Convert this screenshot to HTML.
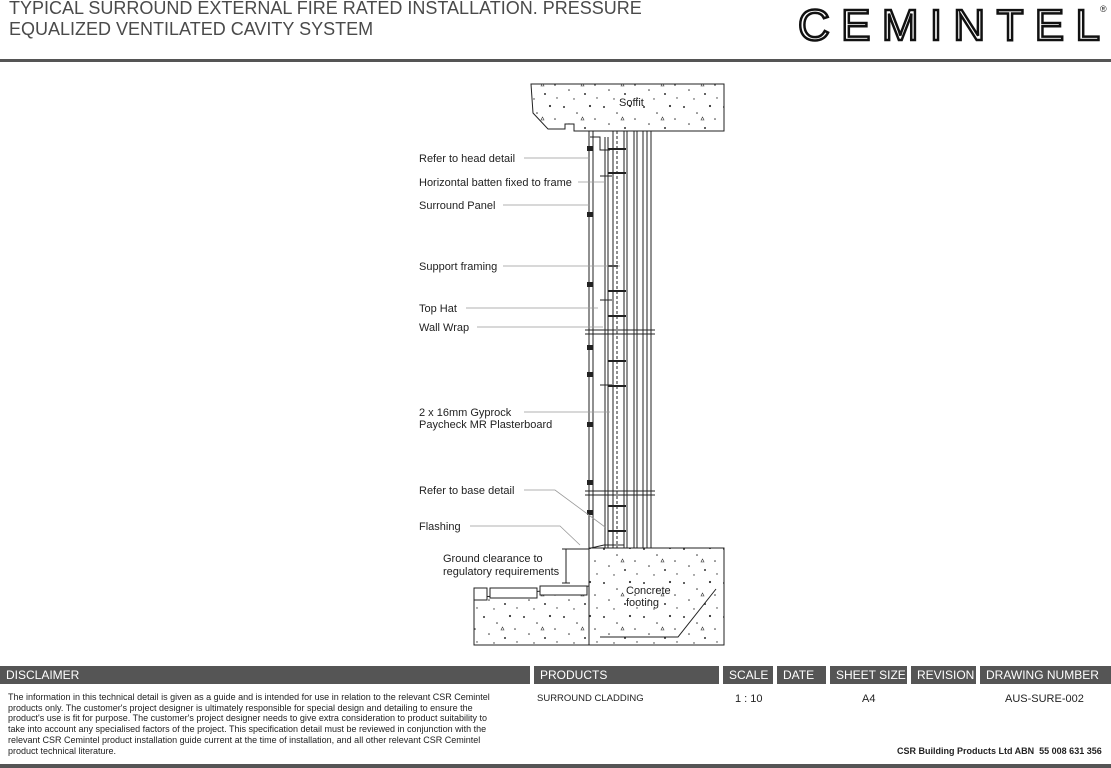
<!DOCTYPE html>
<html><head><meta charset="utf-8"><style>
body{margin:0;width:1111px;height:768px;background:#fff;overflow:hidden;position:relative;font-family:"Liberation Sans",sans-serif}
.t{position:absolute;left:9px;top:-2px;font-size:18px;line-height:21px;color:#4a4a4a}
.bar{position:absolute;background:#555;color:#fff;font-size:12px;line-height:18px;top:666px;height:18px;padding-left:6px;box-sizing:border-box}
.s{position:absolute;font-size:11px;color:#222}
</style></head><body>
<div class="t">TYPICAL SURROUND EXTERNAL FIRE RATED INSTALLATION. PRESSURE<br>EQUALIZED VENTILATED CAVITY SYSTEM</div>
<svg style="position:absolute;left:0;top:0" width="1111" height="768">
<text x="798" y="40" font-family="Liberation Sans" font-size="44" fill="#fff" stroke="#111" stroke-width="2.5" textLength="302" lengthAdjust="spacing">CEMINTEL</text>
<text x="1100" y="12" font-size="9" fill="#222">®</text>
<rect x="0" y="59" width="1111" height="3" fill="#555"/>
<rect x="0" y="764" width="1111" height="4" fill="#555"/>
<defs><pattern id="c" width="40" height="34" patternUnits="userSpaceOnUse">
<circle cx="4" cy="5" r="1" fill="#333"/><circle cx="17" cy="11" r=".8" fill="#333"/><circle cx="30" cy="4" r="1.1" fill="#333"/><circle cx="9" cy="22" r=".8" fill="#333"/><circle cx="25" cy="26" r="1" fill="#333"/><circle cx="35" cy="17" r=".8" fill="#333"/><circle cx="14" cy="31" r=".7" fill="#333"/><path d="M21 18l3 0l-1.5-3z" fill="none" stroke="#333" stroke-width=".6"/><circle cx="37" cy="30" r=".7" fill="#333"/></pattern></defs>
<g stroke="#222" stroke-width="1" fill="none">
<path d="M531 84H724V131H574V124H565V129H548L533 113Z" fill="url(#c)"/>
<path d="M589 548H724V645H589Z" fill="url(#c)"/>
<path d="M474 645V598L589 586V645Z" fill="url(#c)"/>
<path d="M474 588H487V600H474ZM490 588H537V598H490ZM540 586H587V595H540Z" fill="#fff"/>
<path d="M716 589L678 637H600"/>
<path d="M589 131V548M593 131V548M605 137V548M608 137V548M613 131V548M624 131V548M627 131V548M634 131V548M637 131V548M643 131V548M647 131V548M651 131V548"/>
<path d="M617 131V548" stroke-dasharray="3 2"/>
<path d="M585 330H655M585 334H655M585 491H655M585 495H655"/>
<path d="M590 137H600V150H610M600 176H612M600 300H612M600 385H612" />
<path d="M591 548L604 545H624"/>
<path d="M566 549V583M562 549H589M562 583H570"/>
</g>
<g fill="#222"><rect x="587" y="146" width="6" height="5"/><rect x="587" y="212" width="6" height="5"/><rect x="587" y="282" width="6" height="5"/><rect x="587" y="345" width="6" height="5"/><rect x="587" y="372" width="6" height="5"/><rect x="587" y="422" width="6" height="5"/><rect x="587" y="480" width="6" height="5"/><rect x="587" y="510" width="6" height="5"/>
<rect x="608" y="148" width="18" height="2"/><rect x="608" y="172" width="18" height="2"/><rect x="608" y="265" width="10" height="2"/><rect x="608" y="290" width="18" height="2"/><rect x="608" y="315" width="18" height="2"/><rect x="608" y="360" width="18" height="2"/><rect x="608" y="385" width="18" height="2"/><rect x="608" y="505" width="18" height="2"/><rect x="608" y="530" width="18" height="2"/></g>
<g stroke="#999" stroke-width=".8" fill="none">
<path d="M524 158H590M578 182H605M503 205H590M503 266H620M466 308H598M477 327H603M524 412H610M524 490H555L605 527M470 526H560L580 545"/>
</g>
<g font-size="11" fill="#222" font-family="Liberation Sans">
<text x="619" y="106">Soffit</text>
<text x="419" y="162">Refer to head detail</text>
<text x="419" y="186">Horizontal batten fixed to frame</text>
<text x="419" y="209">Surround Panel</text>
<text x="419" y="270">Support framing</text>
<text x="419" y="312">Top Hat</text>
<text x="419" y="331">Wall Wrap</text>
<text x="419" y="416">2 x 16mm Gyprock</text>
<text x="419" y="428">Paycheck MR Plasterboard</text>
<text x="419" y="494">Refer to base detail</text>
<text x="419" y="530">Flashing</text>
<text x="443" y="562">Ground clearance to</text>
<text x="443" y="575">regulatory requirements</text>
<text x="626" y="594">Concrete</text>
<text x="626" y="606">footing</text>
</g>
</svg>
<div class="bar" style="left:0;width:530px">DISCLAIMER</div>
<div class="bar" style="left:534px;width:185px">PRODUCTS</div>
<div class="bar" style="left:723px;width:50px">SCALE</div>
<div class="bar" style="left:777px;width:49px">DATE</div>
<div class="bar" style="left:830px;width:77px">SHEET SIZE</div>
<div class="bar" style="left:911px;width:65px">REVISION</div>
<div class="bar" style="left:980px;width:131px">DRAWING NUMBER</div>
<div class="s" style="left:8px;top:692px;width:530px;font-size:9px;line-height:10.7px;white-space:nowrap">The information in this technical detail is given as a guide and is intended for use in relation to the relevant CSR Cemintel<br>products only. The customer's project designer is ultimately responsible for special design and detailing to ensure the<br>product's use is fit for purpose. The customer's project designer needs to give extra consideration to product suitability to<br>take into account any specialised factors of the project. This specification detail must be reviewed in conjunction with the<br>relevant CSR Cemintel product installation guide current at the time of installation, and all other relevant CSR Cemintel<br>product technical literature.</div>
<div class="s" style="left:537px;top:693px;font-size:9.5px">SURROUND CLADDING</div>
<div class="s" style="left:735px;top:693px">1 : 10</div>
<div class="s" style="left:862px;top:693px">A4</div>
<div class="s" style="left:1005px;top:693px">AUS-SURE-002</div>
<div class="s" style="left:897px;top:746px;font-size:9px;font-weight:bold">CSR Building Products Ltd ABN&nbsp; 55 008 631 356</div>
</body></html>
